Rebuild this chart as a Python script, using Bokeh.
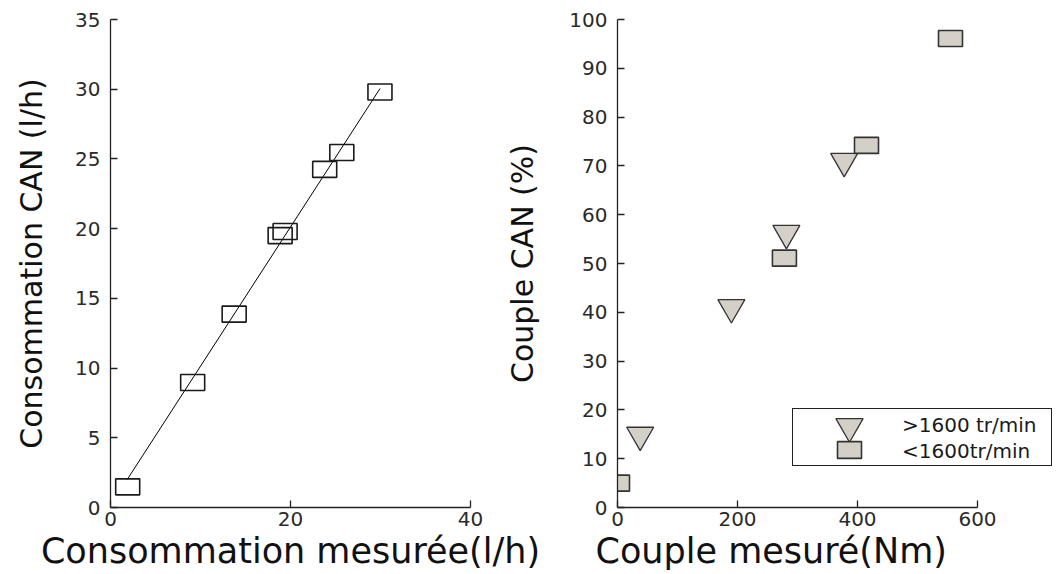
from bokeh.plotting import figure
from bokeh.layouts import row
from bokeh.models import Range1d, FixedTicker, Legend, LegendItem, Title
from bokeh.embed import file_html
from bokeh.resources import INLINE

# ---------------- data ----------------
# Left panel: CAN fuel consumption vs measured consumption (l/h)
conso_mesuree = [1.91, 9.13, 13.74, 18.85, 19.4, 23.8, 25.7, 29.94]
conso_can = [1.48, 8.96, 13.87, 19.5, 19.8, 24.25, 25.46, 29.8]
fit_x = [1.85, 29.95]
fit_y = [2.0, 30.05]

# Right panel: CAN torque (%) vs measured torque (Nm)
haut_regime_x = [37.8, 189.8, 281.5, 377.8]     # >1600 tr/min
haut_regime_y = [14.85, 41.0, 56.2, 70.96]
bas_regime_x = [0, 278.2, 415, 555]             # <1600 tr/min
bas_regime_y = [5.0, 51.1, 74.2, 96.1]

left_xticks = [0, 20, 40]
left_yticks = [0, 5, 10, 15, 20, 25, 30, 35]
right_xticks = [0, 200, 400, 600]
right_yticks = [0, 10, 20, 30, 40, 50, 60, 70, 80, 90, 100]
legend_labels = [">1600 tr/min", "<1600tr/min"]

# ---------------- style ----------------
FONT = "DejaVu Sans"
AXIS_COLOR = "#222222"
TICK_TEXT = "#2a2a2a"
MARKER_FILL = "#d4d0c8"
MARKER_LINE = "#333333"
H = 574
TOP = 19
BOTTOM = 67


def style(p, xticks, yticks, xlabel, ylabel, ylabel_standoff, align, offset):
    p.xgrid.visible = False
    p.ygrid.visible = False
    p.outline_line_color = None
    p.xaxis.ticker = FixedTicker(ticks=xticks)
    p.yaxis.ticker = FixedTicker(ticks=yticks)
    p.yaxis.axis_label = ylabel
    for ax in (p.xaxis[0], p.yaxis[0]):
        ax.axis_line_color = AXIS_COLOR
        ax.axis_line_width = 1.3
        ax.major_tick_line_color = AXIS_COLOR
        ax.major_tick_line_width = 1.3
        ax.major_tick_in = 7
        ax.major_tick_out = 0
        ax.minor_tick_line_color = None
        ax.major_label_text_font = FONT
        ax.major_label_text_font_size = "20px"
        ax.major_label_text_color = TICK_TEXT
        ax.axis_label_text_font = FONT
        ax.axis_label_text_font_style = "normal"
        ax.axis_label_text_color = "#111111"
    p.xaxis.major_label_standoff = 4
    p.yaxis.major_label_standoff = 10
    p.yaxis.axis_label_text_font_size = "30px"
    p.yaxis.axis_label_standoff = ylabel_standoff
    p.add_layout(Title(text=xlabel, align=align, offset=offset, standoff=0,
                       text_font=FONT, text_font_size="35px", text_font_style="normal",
                       text_color="#111111"), "below")


# ---------------- left figure ----------------
p1 = figure(width=562, height=H, x_range=Range1d(0, 40), y_range=Range1d(0, 35),
            output_backend="svg", toolbar_location=None,
            min_border_left=110, min_border_right=92, min_border_top=TOP, min_border_bottom=BOTTOM)
p1.background_fill_color = "white"
p1.border_fill_color = "white"
style(p1, left_xticks, left_yticks, "Consommation mesurée(l/h)", "Consommation CAN (l/h)", 23,
      "center", 0)
p1.line(fit_x, fit_y, line_color="black", line_width=1)
p1.rect(x=conso_mesuree, y=conso_can, width=24, height=16,
        width_units="screen", height_units="screen",
        fill_alpha=0, line_color="#1a1a1a", line_width=1.6)

# ---------------- right figure ----------------
# frame is wider than the 0-600 axis so the legend (inside the frame) fits to the right
p2 = figure(width=570, height=H, x_range=Range1d(0, 735), y_range=Range1d(0, 100),
            output_backend="svg", toolbar_location=None, margin=(0, 0, 0, -72),
            min_border_left=127, min_border_right=2, min_border_top=TOP, min_border_bottom=BOTTOM)
p2.background_fill_alpha = 0
p2.border_fill_alpha = 0
style(p2, right_xticks, right_yticks, "Couple mesuré(Nm)", "Couple CAN (%)", 26, "left", -22)
p2.xaxis.bounds = (0, 600)

r_tri = p2.scatter(haut_regime_x, haut_regime_y, marker="inverted_triangle", size=27,
                   fill_color=MARKER_FILL, line_color=MARKER_LINE, line_width=1.3)
r_sq = p2.rect(x=bas_regime_x, y=bas_regime_y, width=24, height=16,
               width_units="screen", height_units="screen",
               fill_color=MARKER_FILL, line_color=MARKER_LINE, line_width=1.6)

# legend frame with the two labels
legend_box = Legend(
    items=[LegendItem(label=legend_labels[0], renderers=[]),
           LegendItem(label=legend_labels[1], renderers=[])],
    location=(175, 41), margin=0,
    padding=dict(left=0, right=9, top=4, bottom=2), spacing=2,
    glyph_width=100, glyph_height=24, label_height=24, label_standoff=9, label_width=140,
    label_text_font=FONT, label_text_font_size="20px", label_text_color="#1a1a1a",
    border_line_color="#222222", border_line_width=1.2, border_line_alpha=1,
    background_fill_color="white", background_fill_alpha=1,
)
# legend symbols (drawn by the legend from the plotted renderers)
legend_tri = Legend(
    items=[LegendItem(label=" ", renderers=[r_tri])],
    location=(198, 47), margin=0, padding=0, spacing=0,
    glyph_width=68, glyph_height=68, label_height=0, label_width=0, label_standoff=0,
    label_text_font_size="1px", label_text_alpha=0,
    border_line_color=None, background_fill_alpha=0,
)
legend_sq = Legend(
    items=[LegendItem(label=" ", renderers=[r_sq])],
    location=(217, 47), margin=0, padding=0, spacing=0,
    glyph_width=30, glyph_height=21, label_height=0, label_width=0, label_standoff=0,
    label_text_font_size="1px", label_text_alpha=0,
    border_line_color=None, background_fill_alpha=0,
)
p2.add_layout(legend_box)
p2.add_layout(legend_tri)
p2.add_layout(legend_sq)

layout = row(p1, p2)
open("out.html", "w").write(file_html(layout, INLINE))
